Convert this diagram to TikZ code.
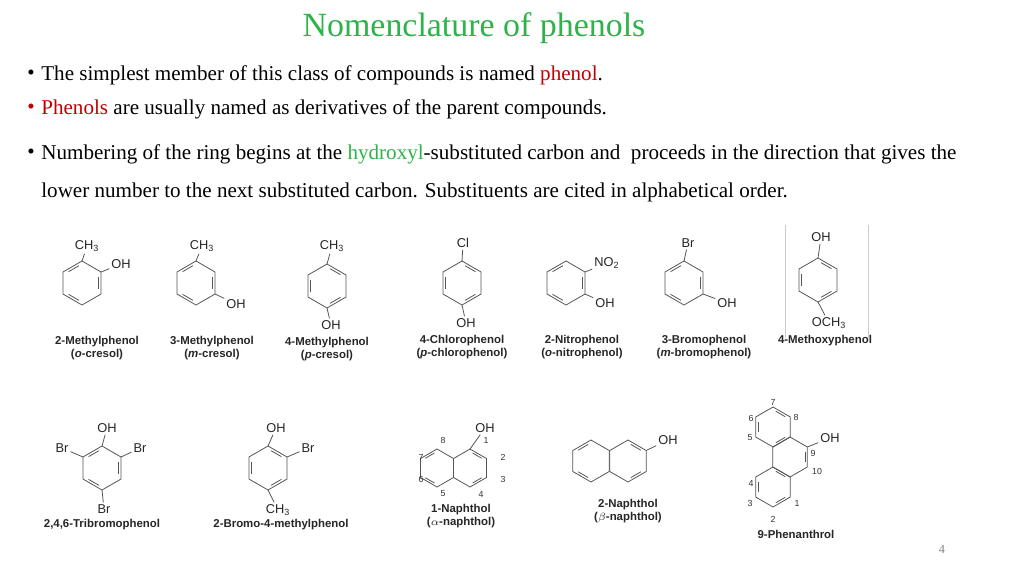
\documentclass[tikz,border=0pt]{standalone}
\usepackage{fontspec}
\setmainfont{Liberation Serif}
\setsansfont{Liberation Sans}
\definecolor{tgreen}{HTML}{2DB34A}
\definecolor{tred}{HTML}{C00000}
\definecolor{bondc}{HTML}{555555}
\tikzset{
 bond/.style={draw=bondc,line width=0.45pt},
 sub/.style={font=\sffamily\fontsize{7.3}{8}\selectfont,inner sep=1pt,text=black!85},
 lab/.style={font=\sffamily\bfseries\fontsize{6.5}{7.6}\selectfont,align=center,text=black!85},
 num/.style={font=\sffamily\fontsize{5}{6}\selectfont,inner sep=0.5pt,text=black!80},
 txt/.style={anchor=west,font=\fontsize{12}{14}\selectfont,inner sep=0pt}
}
\newcommand\benz[5]{%
 \path (#2,#3) coordinate (#1)
  +(90:#4) coordinate (#1-0) +(150:#4) coordinate (#1-1) +(210:#4) coordinate (#1-2)
  +(270:#4) coordinate (#1-3) +(330:#4) coordinate (#1-4) +(390:#4) coordinate (#1-5);
 \draw[bond] (#1-0)--(#1-1)--(#1-2)--(#1-3)--(#1-4)--(#1-5)--cycle;
 \foreach \i in {#5}{\draw[bond] (#2,#3)+({90+60*\i+10}:{0.8*#4}) -- +({150+60*\i-10}:{0.8*#4});}
}
\begin{document}
\begin{tikzpicture}[x=0.02cm,y=-0.02cm]
\useasboundingbox (0,0) rectangle (1024,576);
\fill[white] (0,0) rectangle (1024,576);
% title and text
\node[font=\fontsize{19.3}{21}\selectfont,text=tgreen] (title) at (474,28) {Nomenclature of phenols};
\node[txt] (b1) at (27,75) {\textbullet};
\node[txt] (t1) at (41,75) {The simplest member of this class of compounds is named \textcolor{tred}{phenol}.};
\node[txt,text=tred] (b2) at (27,109) {\textbullet};
\node[txt] (t2) at (41,109) {\textcolor{tred}{Phenols} are usually named as derivatives of the parent compounds.};
\node[txt] (b3) at (27,154) {\textbullet};
\node[txt] (t3) at (41,154) {Numbering of the ring begins at the \textcolor{tgreen}{hydroxyl}-substituted carbon and\ \ proceeds in the direction that gives the};
\node[txt] (t4) at (41,192) {lower number to the next substituted carbon. Substituents are cited in alphabetical order.};
% row 1
\benz{m1}{82}{283}{22}{0,2,4}
\node[sub] (m1a) at (87,246) {CH\textsubscript{3}}; \draw[bond] (m1-3)--(m1a);
\node[sub] (m1b) at (121,264) {OH}; \draw[bond] (m1-4)--(m1b);
\node[lab] (l1) at (97,348) {2-Methylphenol\\(\textit{o}-cresol)};
\benz{m2}{196}{283}{22}{0,2,4}
\node[sub] (m2a) at (202,246) {CH\textsubscript{3}}; \draw[bond] (m2-3)--(m2a);
\node[sub] (m2b) at (236,304) {OH}; \draw[bond] (m2-5)--(m2b);
\node[lab] (l2) at (212,348) {3-Methylphenol\\(\textit{m}-cresol)};
\benz{m3}{327}{286}{22}{1,3,5}
\node[sub] (m3a) at (332,246) {CH\textsubscript{3}}; \draw[bond] (m3-3)--(m3a);
\node[sub] (m3b) at (331,325) {OH}; \draw[bond] (m3-0)--(m3b);
\node[lab] (l3) at (327,349) {4-Methylphenol\\(\textit{p}-cresol)};
\benz{m4}{462}{283}{22}{1,3,5}
\node[sub] (m4a) at (463,243) {Cl}; \draw[bond] (m4-3)--(m4a);
\node[sub] (m4b) at (466,323) {OH}; \draw[bond] (m4-0)--(m4b);
\node[lab] (l4) at (462,347) {4-Chlorophenol\\(\textit{p}-chlorophenol)};
\benz{m5}{566}{283}{22}{0,2,4}
\node[sub] (m5a) at (607,263) {NO\textsubscript{2}}; \draw[bond] (m5-4)--(m5a);
\node[sub] (m5b) at (605,303) {OH}; \draw[bond] (m5-5)--(m5b);
\node[lab] (l5) at (582,347) {2-Nitrophenol\\(\textit{o}-nitrophenol)};
\benz{m6}{684}{283}{22}{0,2,4}
\node[sub] (m6a) at (688,243) {Br}; \draw[bond] (m6-3)--(m6a);
\node[sub] (m6b) at (727,303) {OH}; \draw[bond] (m6-5)--(m6b);
\node[lab] (l6) at (704,347) {3-Bromophenol\\(\textit{m}-bromophenol)};
\draw[black!20,line width=0.5pt] (785,225)--(785,338) (868,225)--(868,338);
\benz{m7}{818}{280}{22}{1,3,5}
\node[sub] (m7a) at (821,237) {OH}; \draw[bond] (m7-3)--(m7a);
\node[sub] (m7b) at (829,323) {OCH\textsubscript{3}}; \draw[bond] (m7-0)--(m7b);
\node[lab] (l7) at (825,341) {4-Methoxyphenol};
% row 2
\benz{n1}{102}{468}{22}{0,2,4}
\node[sub] (n1a) at (107,428) {OH}; \draw[bond] (n1-3)--(n1a);
\node[sub] (n1b) at (62,448) {Br}; \draw[bond] (n1-2)--(n1b);
\node[sub] (n1c) at (140,448) {Br}; \draw[bond] (n1-4)--(n1c);
\node[sub] (n1d) at (104,509) {Br}; \draw[bond] (n1-0)--(n1d);
\node[lab] (k1) at (102,525) {2,4,6-Tribromophenol};
\benz{n2}{268}{468}{22}{1,3,5}
\node[sub] (n2a) at (276,428) {OH}; \draw[bond] (n2-3)--(n2a);
\node[sub] (n2b) at (308,448) {Br}; \draw[bond] (n2-4)--(n2b);
\node[sub] (n2c) at (278,510) {CH\textsubscript{3}}; \draw[bond] (n2-0)--(n2c);
\node[lab] (k2) at (281,525) {2-Bromo-4-methylphenol};
\benz{n3}{437}{468}{19}{0,2}
\benz{n4}{470}{468}{19}{3,5}
\node[sub] (n4a) at (485,428) {OH}; \draw[bond] (n4-3)--(n4a);
\node[num] (q1) at (486,440) {1}; \node[num] (q2) at (503,457) {2};
\node[num] (q3) at (503,479) {3}; \node[num] (q4) at (481,494) {4};
\node[num] (q5) at (443,494) {5}; \node[num] (q6) at (421,479) {6};
\node[num] (q7) at (421,457) {7}; \node[num] (q8) at (443,440) {8};
\node[lab] (k3) at (461,516) {1-Naphthol\\(\textit{$\alpha$}-naphthol)};
\benz{n5}{591}{461}{21}{0,2}
\benz{n6}{628}{461}{21}{3,5}
\node[sub] (n6a) at (668,440) {OH}; \draw[bond] (n6-4)--(n6a);
\node[lab] (k4) at (628,511) {2-Naphthol\\(\textit{$\beta$}-naphthol)};
\benz{pa}{773}{427}{20}{1,3,5}
\benz{pb}{790}{457}{20}{4}
\benz{pc}{773}{487}{20}{1,3,5}
\node[sub] (pa1) at (830,438) {OH}; \draw[bond] (pb-4)--(pa1);
\node[num] (p7) at (773,402) {7}; \node[num] (p6) at (751,418) {6};
\node[num] (p8) at (796,417) {8}; \node[num] (p5) at (750,438) {5};
\node[num] (p9) at (813,453) {9}; \node[num] (p10) at (817,471) {10};
\node[num] (p4) at (751,483) {4}; \node[num] (p3) at (750,503) {3};
\node[num] (p1) at (797,503) {1}; \node[num] (p2) at (773,519) {2};
\node[lab] (k5) at (796,534) {9-Phenanthrol};
\node[font=\fontsize{7}{8}\selectfont,text=black!50] (pg) at (942,549) {4};
\end{tikzpicture}
\end{document}
